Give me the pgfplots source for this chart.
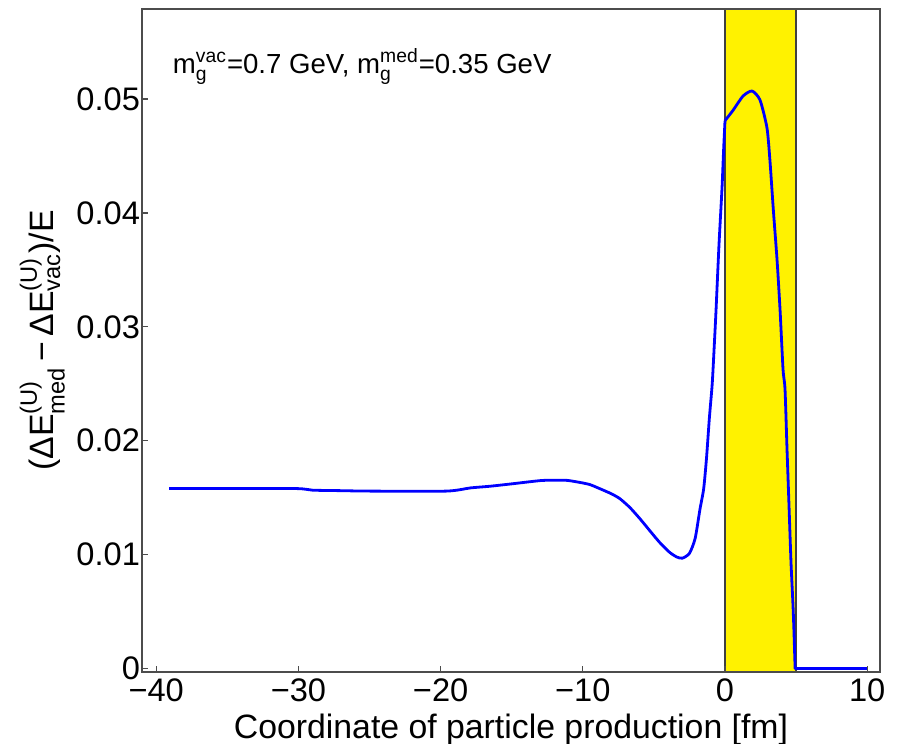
\documentclass[border=0pt]{standalone}
\usepackage{fontspec}
\setmainfont{Liberation Sans}
\usepackage{amsmath}
\usepackage{pgfplots}
\pgfplotsset{compat=1.18}
\begin{document}
\begin{tikzpicture}
\begin{axis}[
 scale only axis, width=369pt, height=331.5pt,
 xmin=-41.0, xmax=10.9, ymin=-0.0003, ymax=0.0579,
 axis on top,
 axis line style={black!70, line width=1pt},
 tick style={black!70, line width=0.6pt},
 tick align=inside, major tick length=3pt,
 xtick pos=left, ytick pos=left,
 xtick={-40,-30,-20,-10,0,10},
 xticklabels={−40,−30,−20,−10,0,10},
 ytick={0,0.01,0.02,0.03,0.04,0.05},
 yticklabels={0,0.01,0.02,0.03,0.04,0.05},
 ticklabel style={font=\fontsize{16.3}{18}\selectfont},
 yticklabel style={xshift=2.5pt},
 label style={font=\fontsize{16.9}{19}\selectfont},
 xlabel={Coordinate of particle production [fm]},
 ylabel={(ΔE$^{\text{(U)}}_{\text{med}}$\,−\,ΔE$^{\text{(U)}}_{\text{vac}}$)/E},
 xlabel style={yshift=1pt},
 ylabel style={yshift=-1pt},
]
\addplot[fill=yellow, draw=none] coordinates {(0,-0.0003) (0,0.0579) (5,0.0579) (5,-0.0003)} -- cycle;
\addplot[black!75, line width=0.7pt] coordinates {(0,-0.0003) (0,0.0579)};
\addplot[black!75, line width=0.7pt] coordinates {(5,-0.0003) (5,0.0579)};
\addplot[blue, line width=1.4pt, line join=round, smooth, tension=0.4] coordinates {
(-39.1,0.0158) (-35,0.0158) (-30.1,0.0158) (-29,0.01566) (-27.1,0.01562)
(-25,0.01558) (-19.6,0.01558) (-17.9,0.01586) (-16.5,0.01601) (-14.9,0.01623)
(-13,0.01650) (-12,0.01654) (-11.1,0.01652) (-10.2,0.01634) (-9.5,0.01615)
(-8.8,0.01579) (-8,0.01535) (-7.4,0.01492) (-6.7,0.01415) (-6.0,0.01318) (-5.3,0.01212)
(-4.6,0.01108) (-3.9,0.01021)
(-3.4,0.00980) (-3.0,0.00969) (-2.5,0.01012) (-2.1,0.01143) (-1.76,0.0140)
(-1.5,0.0158) (-1.3,0.0185) (-1.1,0.0220) (-0.9,0.0250) (-0.75,0.0285)
(-0.63,0.0315) (-0.42,0.0373) (-0.21,0.0422) (-0.1,0.0455) (0,0.0481)
};
\addplot[blue, line width=1.4pt, line join=round, smooth, tension=0.4] coordinates {
(0,0.0481) (0.56,0.0490) (1.27,0.05026) (1.9,0.0507) (2.46,0.04991) (2.95,0.04747)
(3.16,0.04459) (3.4,0.04023) (3.66,0.03586) (3.87,0.0315) (4.08,0.02627)
(4.22,0.02452) (4.36,0.01928) (4.5,0.01431) (4.64,0.00934) (4.78,0.00558)
(4.85,0.00323)
};
\addplot[blue, line width=1.4pt, line join=round] coordinates {
(4.85,0.00323) (4.93,0) (10,0)
};
\node[anchor=base west, font=\fontsize{13.8}{15}\selectfont, inner sep=0pt] at (axis cs:-38.85,0.05227) {m$^{\text{vac}}_{\text{g}}$=0.7 GeV, m$^{\text{med}}_{\text{g}}$=0.35 GeV};
\end{axis}
\pgfresetboundingbox
\path ([shift={(-71pt,-35.5pt)}]current axis.south west) rectangle ([shift={(8.5pt,4.5pt)}]current axis.north east);
\end{tikzpicture}
\end{document}
